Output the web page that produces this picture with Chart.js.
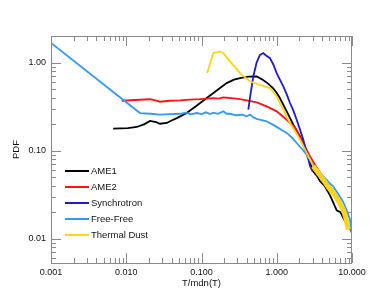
<!DOCTYPE html>
<html lang="en">
<head>
    <meta charset="UTF-8">
    <title>PDF of T/mdn(T)</title>
    <style>
        html, body { margin: 0; padding: 0; background: #fff; }
        .chartBox { width: 382px; height: 306px; }
    </style>
</head>
<body>
<div class="chartBox">
    <canvas id="myChart" width="382" height="306"></canvas>
</div>
<script src="https://cdn.jsdelivr.net/npm/chart.js"></script>

<script>
    // Data (x = T/mdn(T), y = PDF)
    const ame1X = [0.0067, 0.0105, 0.0138, 0.0175, 0.0207, 0.025, 0.028, 0.0345, 0.04, 0.047, 0.0635, 0.086, 0.115, 0.144, 0.18, 0.216, 0.27, 0.325, 0.42, 0.542, 0.65, 0.76, 0.89, 1.0, 1.10, 1.356, 1.66, 2.04, 2.5, 2.8, 3.06, 3.4, 3.76, 4.3, 5.1, 5.6, 6.26, 7.0, 7.7, 8.51, 9.4];
    const ame1Y = [0.1775, 0.18, 0.1855, 0.2, 0.217, 0.21, 0.202, 0.206, 0.22, 0.234, 0.267, 0.323, 0.39, 0.45, 0.52, 0.584, 0.64, 0.666, 0.69, 0.694, 0.637, 0.58, 0.513, 0.45, 0.395, 0.279, 0.197, 0.145, 0.092, 0.072, 0.058, 0.052, 0.045, 0.04, 0.031, 0.026, 0.021, 0.02, 0.017, 0.0146, 0.0135];

    const ame2X = [0.0087, 0.0152, 0.0207, 0.025, 0.028, 0.038, 0.052, 0.07, 0.0955, 0.144, 0.17, 0.195, 0.25, 0.325, 0.43, 0.542, 0.734, 0.998, 1.356, 1.75, 2.23, 2.77, 3.2, 3.76, 4.4, 5.1, 5.9, 6.93, 7.7, 8.51, 9.91];
    const ame2Y = [0.368, 0.378, 0.383, 0.37, 0.359, 0.368, 0.371, 0.38, 0.385, 0.395, 0.39, 0.401, 0.395, 0.385, 0.368, 0.352, 0.318, 0.279, 0.224, 0.181, 0.123, 0.086, 0.07, 0.056, 0.047, 0.039, 0.032, 0.0258, 0.021, 0.0153, 0.0118];

    const syncX = [0.419, 0.45, 0.488, 0.54, 0.598, 0.662, 0.72, 0.813, 0.9, 0.998, 1.1, 1.222, 1.35, 1.5, 1.65, 1.84, 2.05, 2.25, 2.5, 2.77, 3.0];
    const syncY = [0.291, 0.45, 0.694, 1.0, 1.22, 1.28, 1.2, 1.12, 0.95, 0.759, 0.64, 0.535, 0.44, 0.347, 0.29, 0.2244, 0.17, 0.1333, 0.0949, 0.0664, 0.058];

    const ffX = [0.001, 0.0152, 0.021, 0.028, 0.038, 0.052, 0.062, 0.072, 0.086, 0.10, 0.115, 0.13, 0.144, 0.165, 0.195, 0.215, 0.239, 0.29, 0.35, 0.399, 0.442, 0.49, 0.542, 0.63, 0.734, 0.86, 0.998, 1.18, 1.356, 1.6, 1.84, 2.15, 2.5, 3.06, 3.6, 4.16, 4.9, 5.64, 6.6, 7.66, 8.5, 9.4, 9.91];
    const ffY = [1.67, 0.267, 0.262, 0.256, 0.26, 0.262, 0.27, 0.258, 0.267, 0.26, 0.272, 0.26, 0.27, 0.262, 0.279, 0.262, 0.262, 0.252, 0.256, 0.245, 0.256, 0.238, 0.229, 0.222, 0.215, 0.2, 0.186, 0.17, 0.159, 0.14, 0.122, 0.105, 0.09, 0.069, 0.058, 0.051, 0.044, 0.039, 0.032, 0.026, 0.021, 0.0166, 0.0118];

    const dustX = [0.119, 0.1436, 0.176, 0.195, 0.239, 0.325, 0.442, 0.598, 0.813, 0.998, 1.222, 1.5, 2.04, 2.5, 3.06, 3.6, 4.16, 4.9, 5.64, 6.6, 7.66, 8.3, 8.93];
    const dustY = [0.759, 1.28, 1.33, 1.28, 1.03, 0.759, 0.609, 0.559, 0.513, 0.412, 0.291, 0.206, 0.1333, 0.0942, 0.0664, 0.055, 0.0469, 0.038, 0.0332, 0.027, 0.0215, 0.017, 0.01275];

    const xTicks = [0.001, 0.01, 0.1, 1, 10];
    const yTicks = [0.01, 0.1, 1];

    const toPoints = (xs, ys) => xs.map((x, i) => ({x: x, y: ys[i]}));

    // Setup block
    const data = {
        datasets: [
            { label: 'AME1', data: toPoints(ame1X, ame1Y), borderColor: '#000000', order: 5 },
            { label: 'AME2', data: toPoints(ame2X, ame2Y), borderColor: '#ff1414', order: 4 },
            { label: 'Synchrotron', data: toPoints(syncX, syncY), borderColor: '#1c1cc8', order: 3 },
            { label: 'Free-Free', data: toPoints(ffX, ffY), borderColor: '#3399f2', order: 2 },
            {
                label: 'Thermal Dust', data: toPoints(dustX, dustY), borderColor: '#ffd21e', order: 1,
                segment: { borderWidth: ctx => ctx.p0.parsed.x > 3 ? 5 : 1.8 }
            }
        ]
    };

    // frame with inward IDL-style ticks, plus the legend inside the plot
    const frameAndLegend = {
        id: 'frameAndLegend',
        afterDraw(chart) {
            const {ctx, chartArea: a, scales: {x, y}} = chart;
            ctx.save();
            ctx.strokeStyle = '#8a8a8a';
            ctx.lineWidth = 1;
            ctx.strokeRect(a.left + 0.5, a.top + 0.5, a.right - a.left - 1, a.bottom - a.top);
            ctx.beginPath();
            for (let d = -3; d <= 1; d++) {
                for (let k = 1; k <= 9; k++) {
                    const v = k * Math.pow(10, d);
                    if (v < x.min * 0.999 || v > x.max * 1.001) continue;
                    const px = Math.round(x.getPixelForValue(v)) + 0.5;
                    const len = k === 1 ? 10 : 5;
                    ctx.moveTo(px, a.bottom); ctx.lineTo(px, a.bottom - len);
                    ctx.moveTo(px, a.top); ctx.lineTo(px, a.top + len);
                }
            }
            for (let d = -3; d <= 0; d++) {
                for (let k = 1; k <= 9; k++) {
                    const v = k * Math.pow(10, d);
                    if (v < y.min || v > y.max) continue;
                    const py = Math.round(y.getPixelForValue(v)) + 0.5;
                    const len = k === 1 ? 10 : 5;
                    ctx.moveTo(a.left, py); ctx.lineTo(a.left + len, py);
                    ctx.moveTo(a.right, py); ctx.lineTo(a.right - len, py);
                }
            }
            ctx.stroke();

            // legend
            ctx.font = '9.5px "Liberation Sans", Arial, sans-serif';
            ctx.textBaseline = 'middle';
            ctx.fillStyle = '#111';
            chart.data.datasets.forEach((ds, i) => {
                const ly = 171 + i * 16;
                ctx.strokeStyle = ds.borderColor;
                ctx.lineWidth = 2;
                ctx.beginPath();
                ctx.moveTo(65, ly); ctx.lineTo(89, ly);
                ctx.stroke();
                ctx.fillText(ds.label, 91, ly + 0.5);
            });
            ctx.restore();
        }
    };

    // Config block
    const config = {
        type: 'line',
        data: data,
        options: {
            responsive: false,
            animation: false,
            layout: { padding: { top: 36, right: 30, left: 0, bottom: 0 } },
            elements: {
                line: { borderWidth: 1.8, tension: 0 },
                point: { radius: 0 }
            },
            plugins: { legend: { display: false }, tooltip: { enabled: false } },
            scales: {
                x: {
                    type: 'logarithmic',
                    min: 0.001,
                    max: 10,
                    grid: { display: false, drawTicks: false },
                    border: { display: false },
                    afterFit: s => { s.height = 43; },
                    afterBuildTicks: s => { s.ticks = xTicks.map(v => ({value: v})); },
                    ticks: {
                        padding: 4,
                        maxRotation: 0,
                        autoSkip: false,
                        color: '#111',
                        font: { family: '"Liberation Sans", Arial, sans-serif', size: 9 },
                        callback: v => Number(v).toFixed(3)
                    },
                    title: {
                        display: true,
                        text: 'T/mdn(T)',
                        color: '#111',
                        padding: { top: 0, bottom: 17 },
                        font: { family: '"Liberation Sans", Arial, sans-serif', size: 9.5 }
                    }
                },
                y: {
                    type: 'logarithmic',
                    min: 0.0053,
                    max: 2.0,
                    grid: { display: false, drawTicks: false },
                    border: { display: false },
                    afterFit: s => { s.width = 51; },
                    afterBuildTicks: s => { s.ticks = yTicks.map(v => ({value: v})); },
                    ticks: {
                        padding: 5,
                        autoSkip: false,
                        color: '#111',
                        font: { family: '"Liberation Sans", Arial, sans-serif', size: 9 },
                        callback: v => Number(v).toFixed(2)
                    },
                    title: {
                        display: true,
                        text: 'PDF',
                        color: '#111',
                        padding: { top: 11, bottom: 0 },
                        font: { family: '"Liberation Sans", Arial, sans-serif', size: 9.5 }
                    }
                }
            }
        },
        plugins: [frameAndLegend]
    };

    // Init block
    const myChart = new Chart(
        document.getElementById('myChart'),
        config
    );
</script>
</body>
</html>
